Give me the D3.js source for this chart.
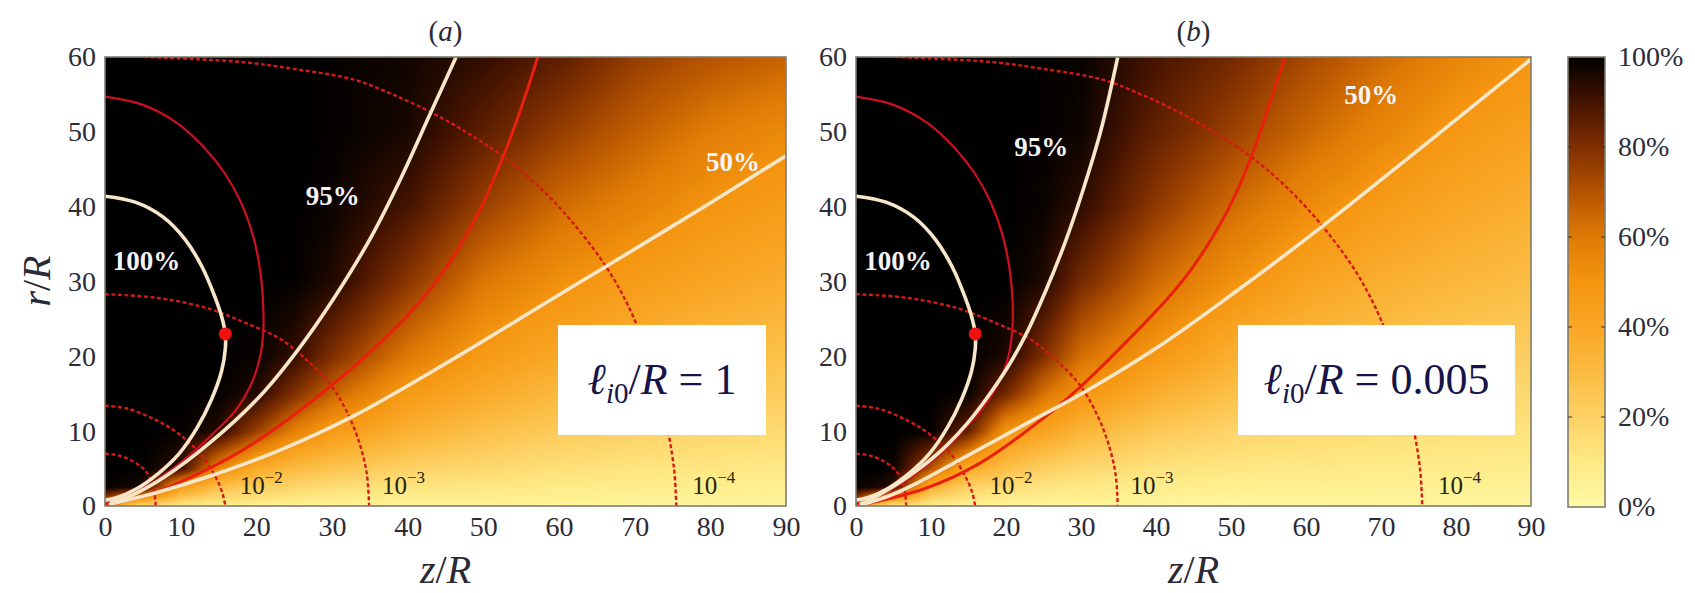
<!DOCTYPE html>
<html>
<head>
<meta charset="utf-8">
<script src="https://cdn.jsdelivr.net/npm/d3@7"></script>
<style>
  body { margin: 0; background: #fff; }
  text { font-family: 'Liberation Serif', 'DejaVu Serif', serif; }
</style>
</head>
<body>
<svg id="chart" width="1695" height="593"></svg>
<script>
// grid of the coloured field, z/R columns and r/R rows
const zGrid = [0, 2.5, 5, 10, 15, 20, 25, 30, 40, 50, 60, 70, 80, 90];
const rGrid = [0, 2.5, 5, 10, 15, 20, 30, 40, 50, 60];

// field values (%) for panel (a), one row per rGrid entry
const fieldA = [
  [60, 30, 15, 10, 8, 7, 6, 5, 5, 5, 4.5, 4, 4, 4],
  [99, 98, 96, 45, 28, 22, 18, 15, 12, 11, 9, 8, 7.5, 7],
  [100, 100, 100, 92, 55, 38, 30, 26, 20, 17, 14, 12, 11, 10],
  [100, 100, 100, 99.5, 95, 75, 58, 47, 35, 28, 23, 20, 18, 16],
  [100, 100, 100, 100, 99.5, 95, 80, 66, 47, 38, 31, 27, 24, 22],
  [100, 100, 100, 100, 100, 99, 93, 80, 60, 47, 39, 34, 30, 27],
  [100, 100, 100, 100, 100, 100, 99.5, 95.5, 78, 61, 52, 46, 41, 37],
  [100, 100, 100, 100, 100, 100, 100, 98.5, 90, 75, 64, 57, 50, 45.5],
  [100, 100, 100, 100, 100, 100, 100, 99.5, 96.5, 86, 76, 67, 59, 54],
  [100, 100, 100, 100, 100, 100, 100, 99.5, 97.5, 93, 86, 76, 70, 66]
];
// field values (%) for panel (b)
const fieldB = [
  [60, 25, 12, 8, 6, 5, 4, 4, 3.5, 3, 3, 3, 3, 3],
  [99, 97, 93, 35, 20, 15, 12, 10, 8, 7, 6.5, 6, 6, 5.5],
  [100, 100, 99, 70, 38, 28, 21, 17, 13, 11, 10, 9, 8.5, 8],
  [100, 100, 100, 99.5, 85, 50, 42, 33, 24, 19, 16.5, 15, 13.5, 12.5],
  [100, 100, 100, 100, 99, 82, 62, 50, 36, 28, 23, 20, 18.5, 17],
  [100, 100, 100, 100, 100, 96, 80, 63, 48, 36, 30, 26, 23, 21],
  [100, 100, 100, 100, 100, 100, 95.5, 82, 64, 52, 42, 36, 32, 29],
  [100, 100, 100, 100, 100, 100, 98.5, 93.5, 77, 64, 54, 46, 40, 36],
  [100, 100, 100, 100, 100, 100, 99.5, 98, 85, 75, 65, 56, 48, 43],
  [100, 100, 100, 100, 100, 100, 99.5, 99, 90, 82, 73, 64, 56, 50]
];

// contour lines, [z/R, r/R]
const contour100 = [[0, 41.4], [4, 40.6], [7.7, 38.6], [10.6, 35.6], [12.8, 32], [14.5, 28], [15.5, 25], [15.9, 23],
  [15.9, 21], [15.4, 18], [14.1, 14.3], [12.2, 10.5], [9.8, 7], [7, 4.3], [4, 2.2], [1.5, 1.1], [0, 0.8]];
const contour95A = [[46.4, 60], [42.8, 52], [39.2, 44], [35.2, 36], [30.4, 28], [25.6, 21], [20.5, 14.7],
  [13.8, 8.4], [7.9, 3.9], [4.1, 1.7], [0.7, 0.4]];
const contour50A = [[0.5, 0.2], [6.5, 1.7], [13.6, 3.9], [23.2, 7.5], [32.8, 12], [47.1, 20.3], [58, 27], [66.2, 32],
  [78.7, 39.7], [90, 46.8]];
const contour95B = [[34.9, 60], [32.6, 50], [30.2, 42], [27.8, 35], [25.4, 29], [22.8, 23.2], [20.2, 18.5],
  [17.5, 14.5], [14.8, 11], [12, 8], [9.1, 5.5], [6.5, 3.6], [4.3, 2.2], [2, 0.9], [0.5, 0.2]];
const contour50B = [[0.5, 0.1], [4, 1.2], [8, 3], [13.9, 6.2], [22.5, 10.9], [30.6, 15.3], [40.2, 21.2], [50.7, 28.7],
  [61.7, 37], [75, 47.6], [90, 59.7]];
const redInnerA = [[0, 54.7], [5, 53.6], [9.5, 51.2], [13, 48], [15.8, 44.5], [18, 40.5], [19.6, 36], [20.5, 31.5],
  [20.9, 27], [20.9, 23], [20.4, 19.5], [19.2, 16], [17.2, 12.7], [14.2, 9.6], [11, 6.6], [7.6, 4], [4.3, 2],
  [1.5, 0.6], [0, 0.3]];
const redInnerB = [[0, 54.7], [5, 53.6], [9.5, 51.2], [13, 48], [15.8, 44.5], [18, 40.5], [19.6, 36], [20.5, 31.5],
  [20.9, 27], [20.8, 23], [20.2, 19.5], [18.8, 16], [16.6, 12.7], [13.8, 9.6], [10.8, 6.6], [7.5, 4], [4.3, 2],
  [1.5, 0.6], [0, 0.3]];
const redOuterA = [[57.2, 60], [55, 53.2], [52.7, 46.9], [49.5, 39.5], [45.5, 32.5], [41, 26.6], [35.5, 21],
  [29.9, 16.1], [24.2, 11.6], [18.4, 7.6], [12.7, 4.5], [6.5, 1.8], [0, 0]];
const redOuterB = [[57.2, 60], [55, 53.3], [52.9, 47.2], [50.3, 41], [47.4, 35.7], [44.6, 31.5], [41.6, 27.8],
  [36.4, 22.3], [30.1, 16.1], [23.9, 10.9], [16.3, 5.6], [9.1, 2.3], [0, 0]];
// dashed level curves (both panels)
const dash0 = [[0, 7], [2, 6.7], [4, 5.8], [5.5, 4.5], [6.4, 2.5], [6.7, 0]];
const dashM2 = [[0, 13.4], [3, 13], [6.5, 11.6], [9, 10.2], [11.2, 8.4], [13, 6.5], [14.6, 3.9], [15.5, 1.8], [15.9, 0]];
const dashM3 = [[0, 28.3], [7, 27.8], [13.6, 26.4], [18.5, 24.5], [23.2, 22.3], [27, 19.2], [29.9, 16.1], [32, 12.5],
  [33.6, 8.5], [34.6, 4.3], [34.9, 0]];
const dashM4 = [[0, 60.2], [10, 59.8], [18.4, 59.3], [25, 58.4], [32.8, 57], [38, 55], [43.1, 52.6], [48, 49.8],
  [52.6, 46.7], [57, 43], [61.7, 38], [66.4, 31.7], [69.5, 26], [72, 19.5], [74, 12], [75.2, 5], [75.5, 0]];
const redDot = [15.9, 23];

// labels
const levelLabelsA = [["100%", 5.5, 32.8], ["95%", 30.1, 41.5], ["50%", 83, 46]];
const levelLabelsB = [["100%", 5.6, 32.8], ["95%", 24.7, 48], ["50%", 68.7, 55]];
const dashLabels = [["\u22122", 17.8, 1.6], ["\u22123", 36.6, 1.6], ["\u22124", 77.6, 1.6]];
const zTicks = [0, 10, 20, 30, 40, 50, 60, 70, 80, 90];
const rTicks = [0, 10, 20, 30, 40, 50, 60];
const cbTicks = [0, 20, 40, 60, 80, 100];
const ratioA = "1";
const ratioB = "0.005";

// colour map of the field
const cmapStops = [0, 10, 20, 30, 40, 50, 60, 70, 80, 90, 100];
const cmapColors = ['#fffba8', '#ffe985', '#fdd165', '#fbbb40', '#f9a625', '#f59510', '#e07a05', '#b55300', '#7f2e00', '#451300', '#000000'];
const color = d3.scaleLinear().domain(cmapStops).range(cmapColors).clamp(true);

const svg = d3.select('#chart');

function fieldAt(grid, z, r) {
  const i = Math.max(0, Math.min(zGrid.length - 2, d3.bisectRight(zGrid, z) - 1));
  const j = Math.max(0, Math.min(rGrid.length - 2, d3.bisectRight(rGrid, r) - 1));
  const tz = Math.max(0, Math.min(1, (z - zGrid[i]) / (zGrid[i + 1] - zGrid[i])));
  const tr = Math.max(0, Math.min(1, (r - rGrid[j]) / (rGrid[j + 1] - rGrid[j])));
  return (1 - tz) * (1 - tr) * grid[j][i] + tz * (1 - tr) * grid[j][i + 1]
    + (1 - tz) * tr * grid[j + 1][i] + tz * tr * grid[j + 1][i + 1];
}

function panel(opt) {
  const x = d3.scaleLinear().domain([0, 90]).range([opt.left, opt.right]);
  const y = d3.scaleLinear().domain([0, 60]).range([opt.bottom, opt.top]);
  const w = opt.right - opt.left, h = opt.bottom - opt.top;

  // heat map drawn into a canvas, then placed as an image
  const canvas = document.createElement('canvas');
  canvas.width = w; canvas.height = h;
  const ctx = canvas.getContext('2d');
  const img = ctx.createImageData(w, h);
  for (let py = 0; py < h; py++) {
    const r = y.invert(opt.top + py + 0.5);
    for (let px = 0; px < w; px++) {
      const z = x.invert(opt.left + px + 0.5);
      const c = d3.rgb(color(fieldAt(opt.field, z, r)));
      const k = (py * w + px) * 4;
      img.data[k] = c.r; img.data[k + 1] = c.g; img.data[k + 2] = c.b; img.data[k + 3] = 255;
    }
  }
  ctx.putImageData(img, 0, 0);
  const g = svg.append('g');
  g.append('image').attr('x', opt.left).attr('y', opt.top).attr('width', w).attr('height', h)
    .attr('href', canvas.toDataURL());

  const clipId = 'clip' + opt.name;
  svg.append('clipPath').attr('id', clipId).append('rect')
    .attr('x', opt.left).attr('y', opt.top).attr('width', w).attr('height', h);
  const lines = g.append('g').attr('clip-path', `url(#${clipId})`);
  const line = d3.line().x(d => x(d[0])).y(d => y(d[1])).curve(d3.curveCatmullRom.alpha(0.5));

  [dash0, dashM2, dashM3, dashM4].forEach(d => {
    lines.append('path').attr('d', line(d)).attr('fill', 'none')
      .attr('stroke', '#d41a14').attr('stroke-width', 2.4).attr('stroke-dasharray', '4 2.5');
  });
  lines.append('path').attr('d', line(opt.redInner)).attr('fill', 'none')
    .attr('stroke', '#cc1020').attr('stroke-width', 2.2);
  lines.append('path').attr('d', line(opt.redOuter)).attr('fill', 'none')
    .attr('stroke', '#e8200c').attr('stroke-width', 3);
  [contour100, opt.c95, opt.c50].forEach(d => {
    lines.append('path').attr('d', line(d)).attr('fill', 'none')
      .attr('stroke', '#f7e6c8').attr('stroke-width', 3.6);
  });
  lines.append('circle').attr('cx', x(redDot[0])).attr('cy', y(redDot[1])).attr('r', 6.5).attr('fill', '#f01010');

  // level labels
  opt.levels.forEach(d => {
    g.append('text').attr('x', x(d[1])).attr('y', y(d[2])).attr('dy', '0.35em')
      .attr('text-anchor', 'middle').attr('font-size', 27).attr('font-weight', 'bold')
      .attr('fill', '#f4f4f8').text(d[0]);
  });
  dashLabels.forEach(d => {
    const t = g.append('text').attr('x', x(d[1])).attr('y', y(d[2])).attr('font-size', 25).attr('fill', '#1e2614');
    t.append('tspan').text('10');
    t.append('tspan').attr('font-size', 17).attr('dy', -11).text(d[0]);
  });

  // label box
  g.append('rect').attr('x', opt.box[0]).attr('y', opt.box[1]).attr('width', opt.box[2]).attr('height', opt.box[3])
    .attr('fill', '#fff');
  const bt = g.append('text').attr('x', opt.box[0] + opt.box[2] / 2).attr('y', opt.box[1] + opt.box[3] / 2 + 14)
    .attr('text-anchor', 'middle').attr('font-size', 44).attr('fill', '#15154a');
  bt.append('tspan').attr('font-style', 'italic').text('\u2113');
  bt.append('tspan').attr('font-style', 'italic').attr('font-size', 29).attr('dy', 9).text('i');
  bt.append('tspan').attr('font-size', 29).text('0');
  bt.append('tspan').attr('dy', -9).text('/');
  bt.append('tspan').attr('font-style', 'italic').text('R');
  bt.append('tspan').text(' = ' + opt.ratio);

  // frame
  g.append('rect').attr('x', opt.left).attr('y', opt.top).attr('width', w).attr('height', h)
    .attr('fill', 'none').attr('stroke', '#7d7d70').attr('stroke-width', 1.6);

  // axes tick labels
  const xAxis = d3.axisBottom(x).tickValues(zTicks).tickSize(0).tickPadding(10);
  const gx = svg.append('g').attr('transform', `translate(0,${opt.bottom})`).call(xAxis);
  gx.select('.domain').remove();
  gx.selectAll('text').attr('font-size', 28).attr('fill', '#2c2c38').attr('font-family', 'Liberation Serif');
  const yAxis = d3.axisLeft(y).tickValues(rTicks).tickSize(0).tickPadding(9);
  const gy = svg.append('g').attr('transform', `translate(${opt.left},0)`).call(yAxis);
  gy.select('.domain').remove();
  gy.selectAll('text').attr('font-size', 28).attr('fill', '#2c2c38').attr('font-family', 'Liberation Serif');

  // axis titles
  const zt = svg.append('text').attr('x', (opt.left + opt.right) / 2).attr('y', 583)
    .attr('text-anchor', 'middle').attr('font-size', 40).attr('fill', '#2a2a36');
  zt.append('tspan').attr('font-style', 'italic').text('z');
  zt.append('tspan').text('/');
  zt.append('tspan').attr('font-style', 'italic').text('R');

  const pt = svg.append('text').attr('x', (opt.left + opt.right) / 2).attr('y', 41)
    .attr('text-anchor', 'middle').attr('font-size', 29).attr('fill', '#2a2a36');
  pt.append('tspan').text('(');
  pt.append('tspan').attr('font-style', 'italic').text(opt.name);
  pt.append('tspan').text(')');
}

panel({ name: 'a', left: 105, right: 786, top: 57, bottom: 506, field: fieldA,
  c95: contour95A, c50: contour50A, redInner: redInnerA, redOuter: redOuterA,
  levels: levelLabelsA, box: [558, 325, 208, 110], ratio: ratioA });
panel({ name: 'b', left: 856, right: 1531, top: 57, bottom: 506, field: fieldB,
  c95: contour95B, c50: contour50B, redInner: redInnerB, redOuter: redOuterB,
  levels: levelLabelsB, box: [1238, 325, 277, 110], ratio: ratioB });

// r/R title
const rt = svg.append('text').attr('transform', 'translate(50,281) rotate(-90)')
  .attr('text-anchor', 'middle').attr('font-size', 40).attr('fill', '#2a2a36');
rt.append('tspan').attr('font-style', 'italic').text('r');
rt.append('tspan').text('/');
rt.append('tspan').attr('font-style', 'italic').text('R');

// colour bar
const cb = d3.scaleLinear().domain([0, 100]).range([507, 57]);
const grad = svg.append('defs').append('linearGradient').attr('id', 'cbgrad')
  .attr('x1', 0).attr('y1', 1).attr('x2', 0).attr('y2', 0);
cmapStops.forEach((s, i) => {
  grad.append('stop').attr('offset', s / 100).attr('stop-color', cmapColors[i]);
});
svg.append('rect').attr('x', 1568).attr('y', cb(100)).attr('width', 37).attr('height', cb(0) - cb(100))
  .attr('fill', 'url(#cbgrad)').attr('stroke', '#7d7d70').attr('stroke-width', 1.6);
const cbAxis = d3.axisRight(cb).tickValues(cbTicks).tickSize(0).tickPadding(13).tickFormat(d => d + '%');
const gcb = svg.append('g').attr('transform', 'translate(1605,0)').call(cbAxis);
gcb.select('.domain').remove();
gcb.selectAll('text').attr('font-size', 28).attr('fill', '#2c2c38').attr('font-family', 'Liberation Serif');
svg.append('g').selectAll('line').data(cbTicks.slice(1, -1)).join('line')
  .attr('x1', 1568).attr('x2', 1572).attr('y1', d => cb(d)).attr('y2', d => cb(d)).attr('stroke', '#333');
svg.append('g').selectAll('line').data(cbTicks.slice(1, -1)).join('line')
  .attr('x1', 1601).attr('x2', 1605).attr('y1', d => cb(d)).attr('y2', d => cb(d)).attr('stroke', '#333');
</script>
</body>
</html>
